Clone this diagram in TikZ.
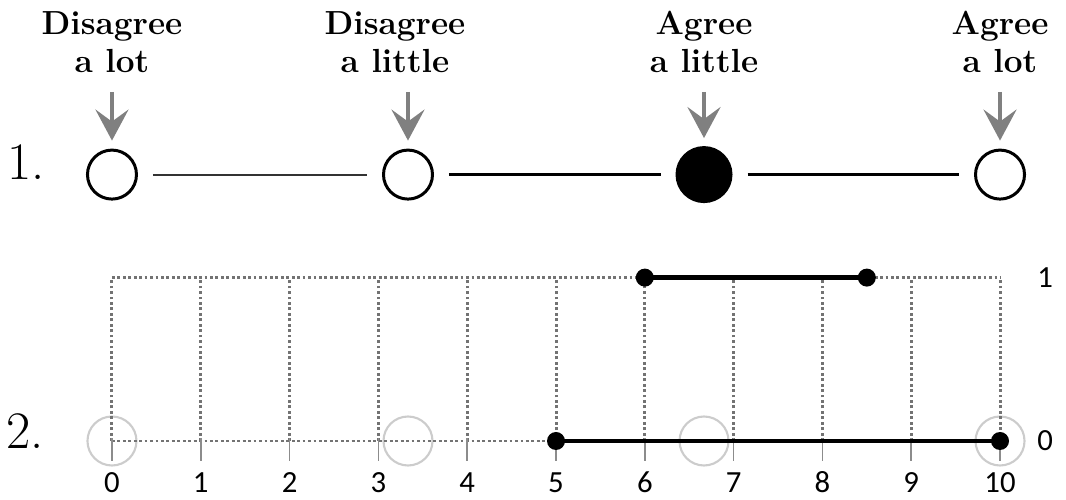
\documentclass[tikz,border=0pt]{standalone}
\usepackage{fontspec}
\newfontfamily\tickfont{Carlito}
\usetikzlibrary{arrows.meta,positioning}

\begin{document}
\begin{tikzpicture}[
  x=1.776cm, y=1.776cm,
  opt/.style={draw, circle, line width=1.7pt, minimum size=0.98cm, inner sep=0pt},
  chosen/.style={opt, fill=black, minimum size=1.08cm},
  ghost/.style={draw=black!20, circle, line width=1.2pt, minimum size=0.98cm, inner sep=0pt},
  lbl/.style={font=\fontsize{19}{21.6}\selectfont\bfseries, align=center, inner sep=0pt, anchor=south},
  num/.style={font=\fontsize{30}{30}\selectfont, inner sep=0pt, anchor=base},
  pointer/.style={-{Stealth[length=0.62cm, width=0.66cm, inset=0.24cm]}, line width=2.2pt,
                  draw=black!50, shorten <=0.38cm, shorten >=0.16cm},
  link/.style={line width=1.7pt, shorten <=0.3cm, shorten >=0.3cm},
  grid/.style={draw=black!55, line width=1.7pt, dash pattern=on 1.6pt off 1.5pt},
  tick/.style={draw=black!45, line width=1pt},
  ticklbl/.style={font=\tickfont\fontsize{17.5}{17.5}\selectfont, inner sep=0pt},
  dot/.style={circle, fill=black, minimum size=0.36cm, inner sep=0pt},
  seg/.style={line width=2.4pt}
]
\useasboundingbox (-1.261,-0.664) rectangle (10.743,4.966);

% Item 1: four answer circles
\node[opt]    (c0) at (0,3)    {};
\node[opt]    (c1) at (10/3,3) {};
\node[chosen] (c2) at (20/3,3) {};
\node[opt]    (c3) at (10,3)   {};

\draw[link, line width=1.2pt, black!80] (c0) -- (c1);
\draw[link] (c1) -- (c2);
\draw[link] (c2) -- (c3);

% Answer labels and arrows
\coordinate (lblline) at (0,4.144);
\node[lbl] (l0) at (c0 |- lblline)                 {Disagree\\a lot};
\node[lbl, xshift=-0.26cm] (l1) at (c1 |- lblline) {Disagree\\a little};
\node[lbl] (l2) at (c2 |- lblline)                 {Agree\\a little};
\node[lbl] (l3) at (c3 |- lblline)                 {Agree\\a lot};

\draw[pointer] (l0.south) -- (c0);
\draw[pointer] (l1.south -| c1) -- (c1);
\draw[pointer] (l2.south) -- (c2);
\draw[pointer] (l3.south) -- (c3);

\node[num] (n1) at (-0.963,2.95)  {1.};
\node[num] (n2) at (-0.974,-0.08) {2.};

% Item 2: faded answer positions
\node[ghost] (g0) at (0,0)    {};
\node[ghost] (g1) at (10/3,0) {};
\node[ghost] (g2) at (20/3,0) {};
\node[ghost] (g3) at (10,0)   {};

% Dotted grid, ticks and tick labels
\draw[grid] (0,1.84) -- (10,1.84);
\draw[grid] (0,0) -- (10,0);
\foreach \v in {0,...,10} {
  \draw[grid] (\v,0) -- (\v,1.84);
  \draw[tick] (\v,0.03) -- (\v,-0.22);
  \node[ticklbl, anchor=base] (t\v) at (\v,-0.575) {\v};
}
\node[ticklbl] (top)  at (10.507,1.84) {1};
\node[ticklbl] (base) at (10.507,0)    {0};

% Membership segments
\node[dot] (a1) at (6,1.84)   {};
\node[dot] (a2) at (8.5,1.84) {};
\node[dot] (b1) at (5,0)      {};
\node[dot] (b2) at (10,0)     {};
\draw[seg] (a1.center) -- (a2.center);
\draw[seg] (b1.center) -- (b2.center);
\end{tikzpicture}
\end{document}
